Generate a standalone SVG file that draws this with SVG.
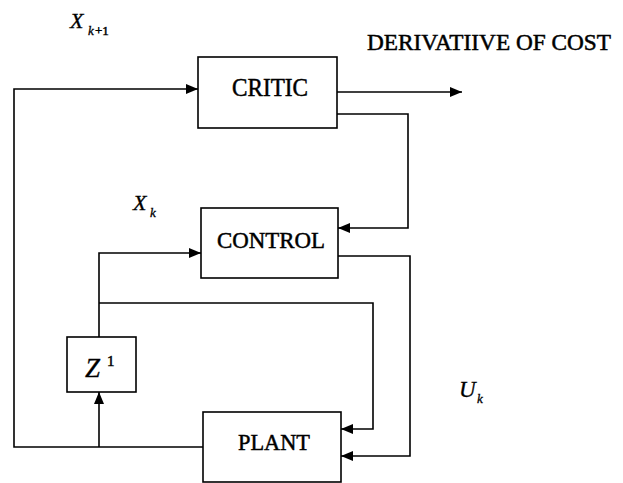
<svg xmlns="http://www.w3.org/2000/svg" width="623" height="483" viewBox="0 0 623 483">
<defs>
<marker id="ah" viewBox="0 0 12 10" refX="12" refY="5" markerWidth="12" markerHeight="10" markerUnits="userSpaceOnUse" orient="auto">
<path d="M0,0 L12,5 L0,10 Z" fill="#000"/>
</marker>
<style>
.box{fill:#fff;stroke:#000;stroke-width:1.6}
.ln{fill:none;stroke:#000;stroke-width:1.6}
.lbl{font-family:"Liberation Serif","Times New Roman",serif;fill:#000;stroke:#000;stroke-width:0.5}
.it{font-family:"Liberation Serif","Times New Roman",serif;font-style:italic;fill:#000;stroke:#000;stroke-width:0.3}
</style>
</defs>
<rect width="623" height="483" fill="#fff"/>
<g id="connectors">
<polyline class="ln" points="203,447 14,447 14,89 198,89" marker-end="url(#ah)"/>
<polyline class="ln" points="99,447 99,392" marker-end="url(#ah)"/>
<polyline class="ln" points="99,337 99,253 201,253" marker-end="url(#ah)"/>
<polyline class="ln" points="99,303 373,303 373,429 341,429" marker-end="url(#ah)"/>
<polyline class="ln" points="338,256 410,256 410,456 341,456" marker-end="url(#ah)"/>
<polyline class="ln" points="337,92 462,92" marker-end="url(#ah)"/>
<polyline class="ln" points="337,114 408,114 408,228 338,228" marker-end="url(#ah)"/>
</g>
<g id="critic">
<rect class="box" x="198" y="57" width="139" height="71"/>
<text class="lbl" x="232" y="96" font-size="25" textLength="76" lengthAdjust="spacingAndGlyphs">CRITIC</text>
</g>
<g id="control">
<rect class="box" x="201" y="208" width="137" height="70"/>
<text class="lbl" x="217" y="248" font-size="24" textLength="108" lengthAdjust="spacingAndGlyphs">CONTROL</text>
</g>
<g id="plant">
<rect class="box" x="203" y="412" width="138" height="70"/>
<text class="lbl" x="238" y="450" font-size="24" textLength="72" lengthAdjust="spacingAndGlyphs">PLANT</text>
</g>
<g id="delay">
<rect class="box" x="67" y="337" width="69" height="55"/>
<text class="it" x="85" y="377" font-size="27">Z</text>
<text class="lbl" x="107" y="366" font-size="15">1</text>
</g>
<g id="labels">
<text class="it" x="70" y="28" font-size="22">X</text>
<text class="it" x="88" y="35" font-size="13">k</text>
<text class="lbl" x="95" y="35" font-size="13">+1</text>
<text class="it" x="133" y="210" font-size="22">X</text>
<text class="it" x="150" y="217" font-size="13">k</text>
<text class="it" x="459" y="397" font-size="23">U</text>
<text class="it" x="477" y="403" font-size="13">k</text>
<text class="lbl" x="367" y="50" font-size="23" textLength="244" lengthAdjust="spacingAndGlyphs">DERIVATIIVE OF COST</text>
</g>
</svg>
